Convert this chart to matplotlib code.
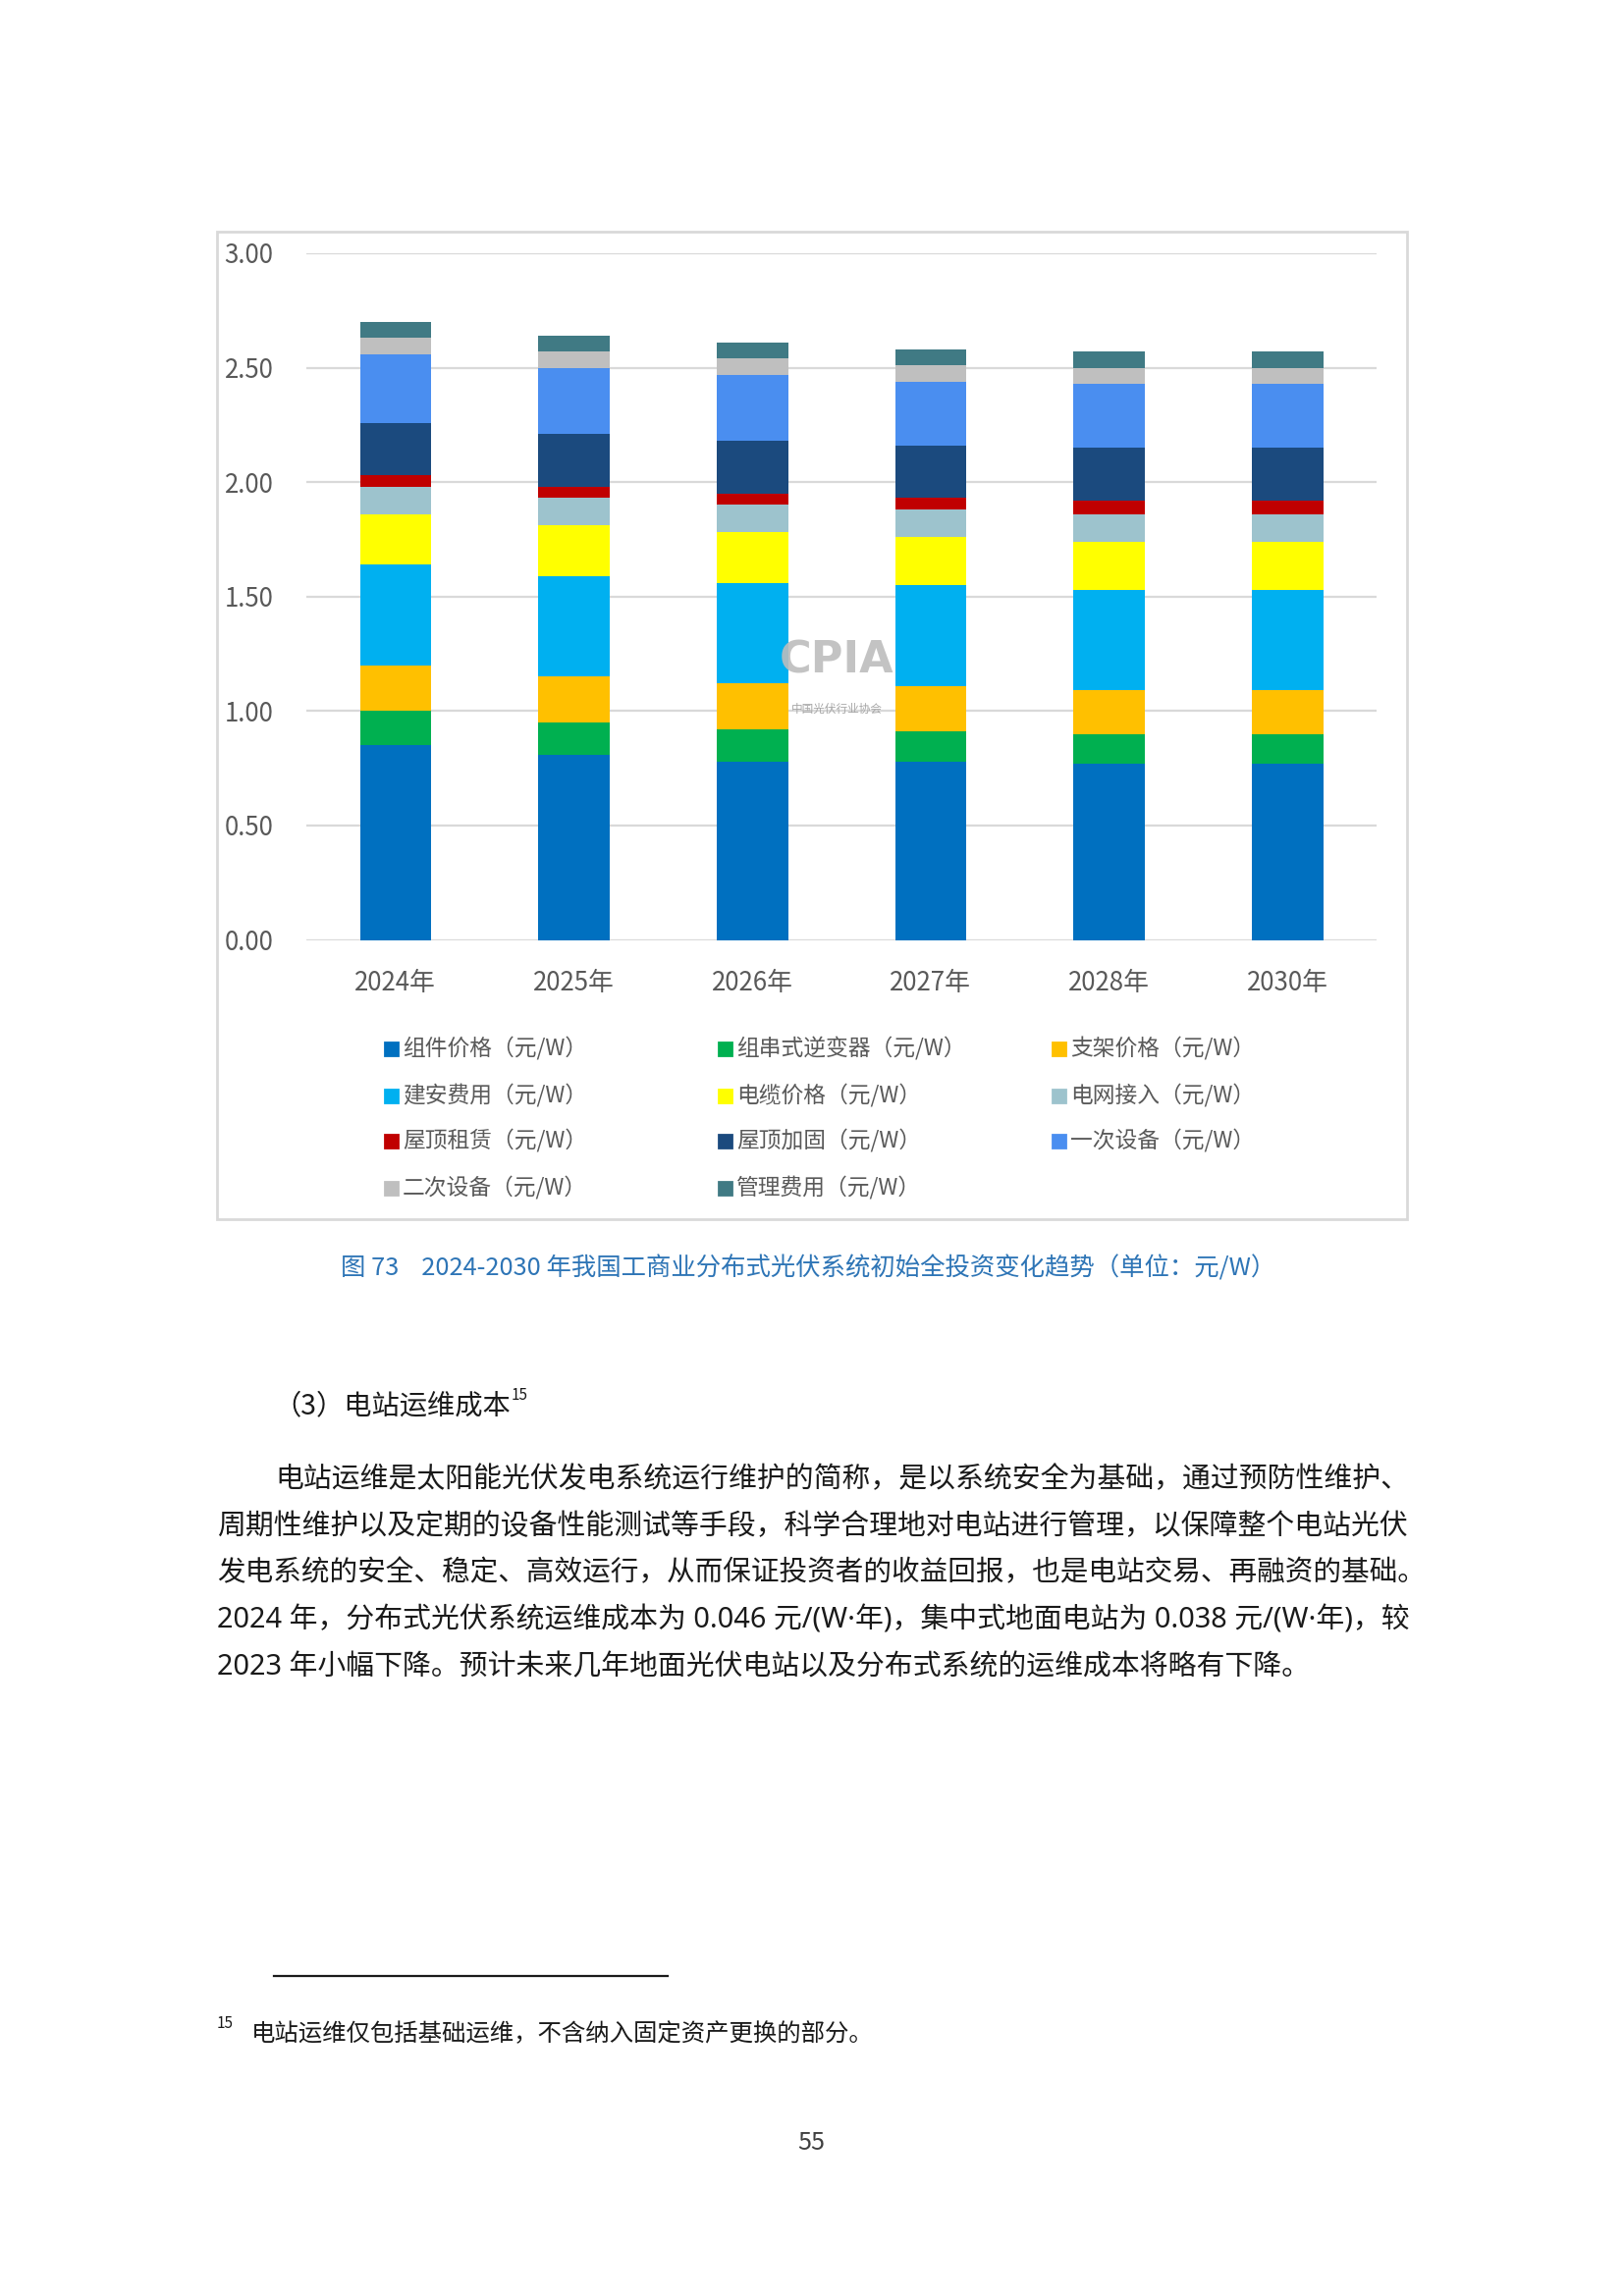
import numpy as np
import matplotlib.pyplot as plt
from matplotlib.patches import Rectangle

plt.rcParams['font.family'] = ['Noto Sans CJK SC', 'DejaVu Sans']

W, H = 1654, 2339

years = ['2024年', '2025年', '2026年', '2027年', '2028年', '2030年']
labels = ['组件价格（元/W）', '组串式逆变器（元/W）', '支架价格（元/W）',
          '建安费用（元/W）', '电缆价格（元/W）', '电网接入（元/W）',
          '屋顶租赁（元/W）', '屋顶加固（元/W）', '一次设备（元/W）',
          '二次设备（元/W）', '管理费用（元/W）']

module    = [0.85, 0.81, 0.78, 0.78, 0.77, 0.77]
inverter  = [0.15, 0.14, 0.14, 0.13, 0.13, 0.13]
bracket   = [0.20, 0.20, 0.20, 0.20, 0.19, 0.19]
install   = [0.44, 0.44, 0.44, 0.44, 0.44, 0.44]
cable     = [0.22, 0.22, 0.22, 0.21, 0.21, 0.21]
grid_conn = [0.12, 0.12, 0.12, 0.12, 0.12, 0.12]
roof_rent = [0.05, 0.05, 0.05, 0.05, 0.06, 0.06]
roof_fix  = [0.23, 0.23, 0.23, 0.23, 0.23, 0.23]
primary   = [0.30, 0.29, 0.29, 0.28, 0.28, 0.28]
secondary = [0.07, 0.07, 0.07, 0.07, 0.07, 0.07]
mgmt      = [0.07, 0.07, 0.07, 0.07, 0.07, 0.07]

series = [module, inverter, bracket, install, cable, grid_conn,
          roof_rent, roof_fix, primary, secondary, mgmt]
colors = ['#0070C0', '#00B050', '#FFC000', '#00B0F0', '#FFFF00', '#9DC3CD',
          '#C00000', '#1B4A7E', '#4A8EF0', '#BFBFBF', '#407A84']

body = [
    '电站运维是太阳能光伏发电系统运行维护的简称，是以系统安全为基础，通过预防性维护、',
    '周期性维护以及定期的设备性能测试等手段，科学合理地对电站进行管理，以保障整个电站光伏',
    '发电系统的安全、稳定、高效运行，从而保证投资者的收益回报，也是电站交易、再融资的基础。',
    '2024 年，分布式光伏系统运维成本为 0.046 元/(W·年)，集中式地面电站为 0.038 元/(W·年)，较',
    '2023 年小幅下降。预计未来几年地面光伏电站以及分布式系统的运维成本将略有下降。',
]


def fx(x):
    return x / W


def fy(y):
    return 1 - y / H


fig = plt.figure(figsize=(W / 200, H / 200), dpi=200)

# chart frame
fig.patches.append(Rectangle((fx(221), fy(1242)), fx(1433) - fx(221), fy(236) - fy(1242),
                             transform=fig.transFigure, fill=False,
                             edgecolor='#D9D9D9', lw=1.0))

ax = fig.add_axes([fx(312), fy(957.5), fx(1402) - fx(312), fy(258) - fy(957.5)])
x = np.arange(len(years))
bottom = np.zeros(len(years))
for vals, c, lab in zip(series, colors, labels):
    ax.bar(x, vals, 0.4, bottom=bottom, color=c, label=lab, zorder=3)
    bottom += np.array(vals)

ax.set_ylim(0, 3)
ax.set_xlim(-0.5, len(years) - 0.5)
ax.set_yticks(np.arange(0, 3.01, 0.5))
ax.set_yticklabels([f'{v:.2f}' for v in np.arange(0, 3.01, 0.5)])
ax.set_xticks(x)
ax.set_xticklabels(years)
ax.tick_params(axis='y', length=0, pad=12, labelsize=9.3, labelcolor='#595959')
ax.tick_params(axis='x', length=0, pad=11, labelsize=9.3, labelcolor='#595959')
ax.grid(axis='y', color='#D9D9D9', lw=0.8, zorder=0)
for s in ax.spines.values():
    s.set_visible(False)

# watermark
fig.text(fx(852), fy(673), 'CPIA', ha='center', va='center', fontsize=16,
         fontweight='bold', color='#BDBDBD', family=['DejaVu Sans'], alpha=0.9)
fig.text(fx(852), fy(722), '中国光伏行业协会', ha='center', va='center',
         fontsize=4.2, color='#A6A6A6')

# legend, row-major like the original
col_x = [392, 732, 1072]
row_y = [1068, 1116, 1162, 1210]
for i, (lab, c) in enumerate(zip(labels, colors)):
    r, k = divmod(i, 3)
    fig.patches.append(Rectangle((fx(col_x[k]), fy(row_y[r] + 7)), 13 / W, 13 / H,
                                 transform=fig.transFigure, color=c))
    fig.text(fx(col_x[k] + 18), fy(row_y[r]), lab, ha='left', va='center',
             fontsize=8.2, color='#595959')

fig.text(fx(823), fy(1292), '图 73    2024-2030 年我国工商业分布式光伏系统初始全投资变化趋势（单位：元/W）',
         ha='center', va='center', fontsize=9.15, color='#2E75B6')

fig.text(fx(278), fy(1432), '（3）电站运维成本', ha='left', va='center',
         fontsize=10.2, color='#1A1A1A')
fig.text(fx(521), fy(1422), '15', ha='left', va='center', fontsize=5.5, color='#1A1A1A')

line_y = [1508, 1556, 1603, 1651, 1699]
for i, (t, yy) in enumerate(zip(body, line_y)):
    x0 = 280 if i == 0 else 221
    fs = 10.3 if i == 2 else 10.4
    fig.text(fx(x0), fy(yy), t, ha='left', va='center', fontsize=fs, color='#1A1A1A',
             family=['Noto Sans', 'Noto Sans CJK SC'])

fig.add_artist(plt.Line2D([fx(279), fx(680)], [fy(2013), fy(2013)], color='#1A1A1A', lw=0.8))
fig.text(fx(221), fy(2062), '15', ha='left', va='center', fontsize=5.5, color='#1A1A1A')
fig.text(fx(256), fy(2072), '电站运维仅包括基础运维，不含纳入固定资产更换的部分。',
         ha='left', va='center', fontsize=8.8, color='#1A1A1A')
fig.text(fx(826), fy(2183), '55', ha='center', va='center', fontsize=9, color='#404040')

fig.savefig('out.png', dpi=200, facecolor='white')
